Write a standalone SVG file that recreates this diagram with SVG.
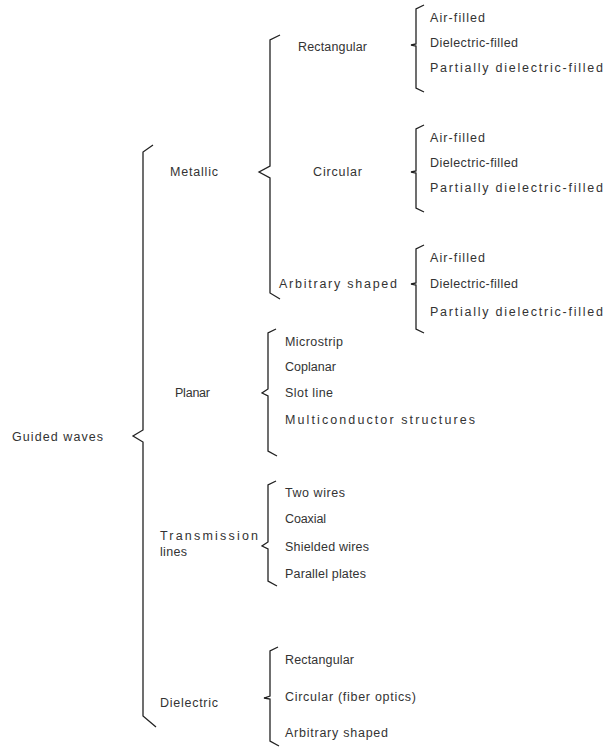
<svg xmlns="http://www.w3.org/2000/svg" width="604" height="751" viewBox="0 0 604 751">
<style>
text{font-family:"Liberation Sans",Arial,sans-serif;font-size:12.5px;fill:#333;dominant-baseline:central;lengthAdjust:spacing}
.br{fill:none;stroke:#222;stroke-width:1.3;stroke-linejoin:miter}
</style>
<rect width="604" height="751" fill="#fff"/>
<g id="connectors">
<path class="br" d="M153,145 L143,152 L143,430 L133,436 L143,442 L143,716 L156,727"/>
<path class="br" d="M280,35 L270,40 L270,166 L259,172 L270,178 L270,293 L280,299"/>
<path class="br" d="M424,5 L416,9 L416,44 L411,45 L416,46 L416,88 L424,92"/>
<path class="br" d="M424,125 L416,129 L416,171 L411,172 L416,173 L416,208 L424,212"/>
<path class="br" d="M424,245 L416,249 L416,283 L411,284 L416,285 L416,329 L424,333"/>
<path class="br" d="M276,329 L268,333 L268,389 L262,393 L268,396 L268,451 L277,456"/>
<path class="br" d="M276,481 L268,485 L268,542 L262,546 L268,549 L268,581 L277,586"/>
<path class="br" d="M278,647 L270,651 L270,696 L264,698 L270,699 L270,741 L279,746"/>
</g>
<g id="root"><text x="12" y="437" textLength="91">Guided waves</text></g>
<g id="metallic"><text x="170" y="172" textLength="48">Metallic</text></g>
<g id="m-rect"><text x="298" y="47" textLength="69">Rectangular</text></g>
<g id="m-rect-items">
<text x="430" y="18" textLength="55">Air-filled</text>
<text x="430" y="43" textLength="88">Dielectric-filled</text>
<text x="430" y="68" textLength="173">Partially dielectric-filled</text>
</g>
<g id="m-circ"><text x="313" y="172" textLength="49">Circular</text></g>
<g id="m-circ-items">
<text x="430" y="138" textLength="55">Air-filled</text>
<text x="430" y="163" textLength="88">Dielectric-filled</text>
<text x="430" y="188" textLength="173">Partially dielectric-filled</text>
</g>
<g id="m-arb"><text x="279" y="284" textLength="118">Arbitrary shaped</text></g>
<g id="m-arb-items">
<text x="430" y="258" textLength="55">Air-filled</text>
<text x="430" y="284" textLength="88">Dielectric-filled</text>
<text x="430" y="312" textLength="173">Partially dielectric-filled</text>
</g>
<g id="planar"><text x="175" y="393" textLength="35">Planar</text></g>
<g id="planar-items">
<text x="285" y="342" textLength="58">Microstrip</text>
<text x="285" y="367" textLength="51">Coplanar</text>
<text x="285" y="393" textLength="48">Slot line</text>
<text x="285" y="420" textLength="190">Multiconductor structures</text>
</g>
<g id="tlines"><text x="160" y="536" textLength="98">Transmission</text><text x="160" y="552" textLength="27">lines</text></g>
<g id="tlines-items">
<text x="285" y="493" textLength="60">Two wires</text>
<text x="285" y="519" textLength="41">Coaxial</text>
<text x="285" y="547" textLength="84">Shielded wires</text>
<text x="285" y="574" textLength="81">Parallel plates</text>
</g>
<g id="dielectric"><text x="160" y="703" textLength="58">Dielectric</text></g>
<g id="dielectric-items">
<text x="285" y="660" textLength="69">Rectangular</text>
<text x="285" y="697" textLength="131">Circular (fiber optics)</text>
<text x="285" y="733" textLength="103">Arbitrary shaped</text>
</g>
</svg>
